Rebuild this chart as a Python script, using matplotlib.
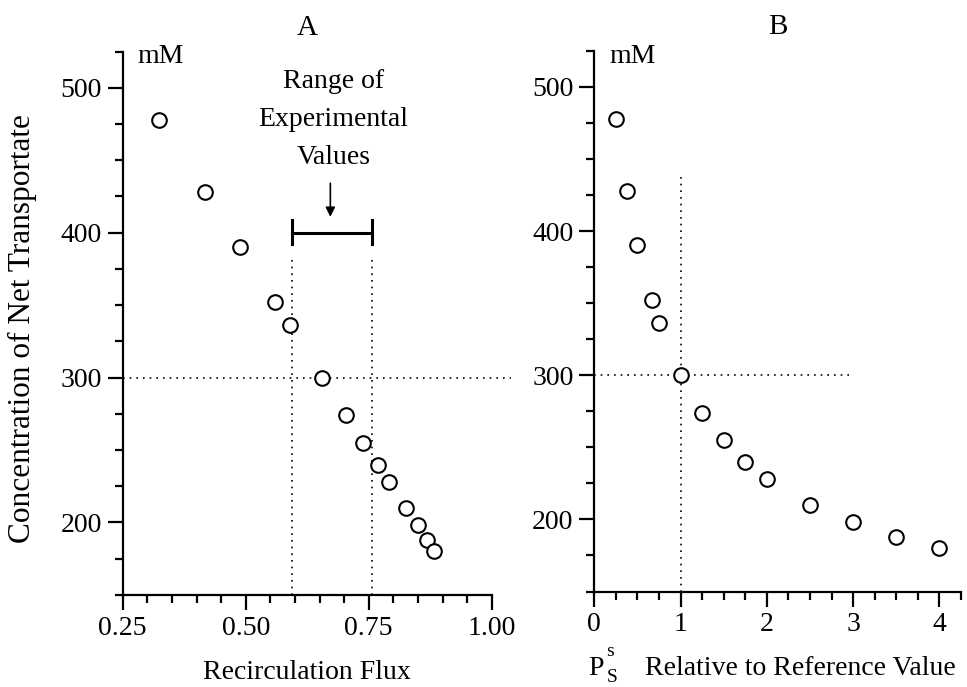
import numpy as np
import matplotlib
matplotlib.use('Agg')
import matplotlib.pyplot as plt
from matplotlib.ticker import MultipleLocator

plt.rcParams['font.family'] = 'Liberation Serif'
plt.rcParams['font.size'] = 20

# concentration of net transportate (mM), shared by both panels
conc = [478, 428, 390, 352, 336, 300, 274, 255, 240, 228, 210, 198, 188, 180]
# panel A: recirculation flux
flux = [0.323, 0.417, 0.488, 0.560, 0.590, 0.656, 0.704, 0.739, 0.768, 0.791,
        0.825, 0.850, 0.869, 0.883]
# panel B: P^s_S relative to reference value
ps_rel = [0.25, 0.375, 0.5, 0.67, 0.75, 1.0, 1.25, 1.5, 1.75, 2.0, 2.5, 3.0, 3.5, 4.0]

exp_range = [0.595, 0.757]   # range of experimental values
ref_conc = 300

W, H = 967, 687
fig = plt.figure(figsize=(W / 100, H / 100), dpi=100)
axA = fig.add_axes([0.1269, 0.134, 0.3816, 0.791])
axB = fig.add_axes([0.6146, 0.139, 0.3792, 0.787])

lw = 1.6
fs = 20
for ax in (axA, axB):
    ax.spines['top'].set_visible(False)
    ax.spines['right'].set_visible(False)
    ax.spines['left'].set_linewidth(lw)
    ax.spines['bottom'].set_linewidth(lw)
    ax.set_ylim(150, 525)
    ax.yaxis.set_major_locator(MultipleLocator(100))
    ax.yaxis.set_minor_locator(MultipleLocator(25))
    ax.tick_params(which='major', length=11, width=lw, direction='out', labelsize=fs, pad=4)
    ax.tick_params(which='minor', length=6, width=lw, direction='out')
    ax.set_yticks([200, 300, 400, 500])
    ax.text(0.04, 0.99, 'mM', transform=ax.transAxes, fontsize=fs, va='center', ha='left')

# Panel A
axA.plot(flux, conc, 'o', mfc='white', mec='black', ms=10.5, mew=1.5, clip_on=False, zorder=3)
axA.set_xlim(0.25, 1.0)
axA.xaxis.set_minor_locator(MultipleLocator(0.05))
axA.set_xticks([0.25, 0.5, 0.75, 1.0])
axA.set_xticklabels(['0.25', '0.50', '0.75', '1.00'])
axA.plot([0.25, 1.04], [ref_conc, ref_conc], ls=(0, (1, 3)), color='black', lw=1.2, clip_on=False)
for xv in exp_range:
    axA.plot([xv, xv], [150, 383], ls=(0, (1, 3)), color='black', lw=1.2)
axA.plot(exp_range, [400, 400], color='black', lw=2.2)
for xv in exp_range:
    axA.plot([xv, xv], [392, 409], color='black', lw=2.2)
axA.annotate('', xy=(0.672, 409), xytext=(0.672, 436),
             arrowprops=dict(arrowstyle='-|>', color='black', lw=1.2, mutation_scale=14))
axA.text(0.678, 478, 'Range of\nExperimental\nValues', ha='center', va='center',
         fontsize=fs, linespacing=1.68)
axA.set_xlabel('Recirculation Flux', fontsize=fs, labelpad=14)
axA.set_ylabel('Concentration of Net Transportate', fontsize=22.5)
axA.yaxis.set_label_coords(-0.232, 0.491)
axA.set_title('A', fontsize=21, pad=12)

# Panel B
axB.plot(ps_rel, conc, 'o', mfc='white', mec='black', ms=10.5, mew=1.5, clip_on=False, zorder=3)
axB.set_xlim(0, 4.25)
axB.xaxis.set_major_locator(MultipleLocator(1))
axB.xaxis.set_minor_locator(MultipleLocator(0.25))
axB.plot([0, 3], [ref_conc, ref_conc], ls=(0, (1, 3)), color='black', lw=1.2)
axB.plot([1, 1], [150, 439], ls=(0, (1, 3)), color='black', lw=1.2)
axB.set_title('B', fontsize=21, pad=12)

# x label of panel B: P with stacked superscript s and subscript S
base = 1 - 675 / H
fig.text(588 / W, base, 'P', fontsize=fs, va='baseline', ha='left')
fig.text(606 / W, 1 - 656 / H, 's', fontsize=14, va='baseline', ha='left')
fig.text(607 / W, 1 - 682 / H, 'S', fontsize=14, va='baseline', ha='left')
fig.text(645 / W, base, 'Relative to Reference Value', fontsize=fs, va='baseline', ha='left')

fig.savefig('out.png', dpi=100)
